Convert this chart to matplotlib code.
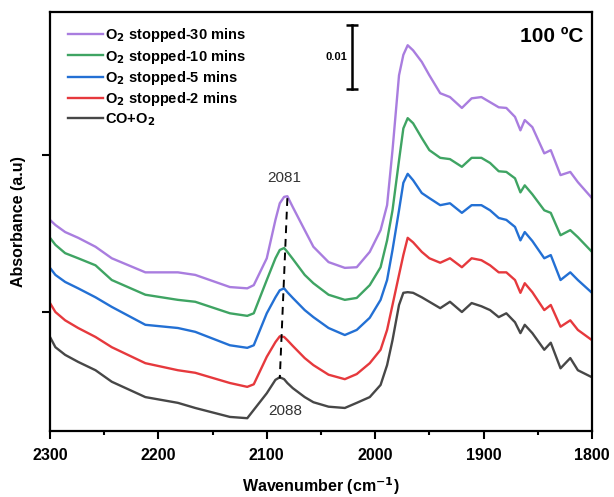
import numpy as np
import matplotlib
matplotlib.use("Agg")
import matplotlib.pyplot as plt
from matplotlib.ticker import MultipleLocator

plt.rcParams['font.family'] = ['Liberation Sans', 'DejaVu Sans']

# wavenumber grid (cm-1), shared by all spectra
wn = [2300, 2295, 2286, 2274, 2258, 2243, 2212, 2182, 2166, 2134, 2118, 2112,
      2100, 2092, 2088, 2084, 2081, 2076, 2065, 2057, 2043, 2028, 2017, 2005,
      1995, 1989, 1984, 1978, 1974, 1970, 1965, 1957, 1950, 1940, 1931, 1920,
      1911, 1902, 1894, 1886, 1879, 1871, 1866, 1862, 1855, 1844, 1838, 1829,
      1820, 1813, 1800]

# absorbance, in units of 1e-3 (offset stacked as in the figure)
abs_30min = [33.0, 32.2, 31.1, 30.2, 28.8, 27.0, 24.8, 24.8, 24.4, 22.5, 22.3, 22.8,
             27.0, 33.0, 35.6, 36.6, 36.7, 35.0, 31.4, 28.8, 26.4, 25.5, 25.6, 28.0,
             31.4, 35.3, 43.9, 55.6, 58.8, 60.3, 59.5, 57.7, 55.6, 52.8, 52.2, 50.5,
             52.0, 52.2, 51.4, 50.6, 50.5, 49.1, 47.0, 48.6, 47.5, 43.4, 43.9, 40.0,
             40.5, 38.9, 36.4]
abs_10min = [30.2, 29.1, 27.8, 27.0, 25.9, 23.6, 21.3, 20.5, 20.2, 18.4, 18.0, 18.4,
             23.6, 27.0, 28.3, 28.6, 28.0, 26.9, 24.4, 23.1, 21.3, 20.5, 20.8, 22.8,
             25.6, 29.8, 34.5, 42.3, 47.3, 48.9, 48.1, 45.8, 43.9, 42.7, 42.5, 41.3,
             42.7, 42.7, 41.9, 40.6, 40.5, 39.5, 37.3, 38.4, 37.0, 34.5, 34.1, 30.6,
             31.4, 30.3, 28.0]
abs_5min = [25.5, 24.4, 23.3, 22.3, 20.9, 19.4, 16.6, 16.1, 15.5, 13.4, 13.0, 13.4,
            18.4, 20.9, 22.0, 22.3, 21.7, 20.8, 18.9, 17.8, 16.1, 15.0, 15.8, 17.7,
            20.5, 23.6, 28.3, 34.5, 38.8, 40.2, 39.2, 37.2, 36.4, 35.3, 35.6, 34.1,
            35.3, 35.3, 34.5, 33.3, 33.0, 31.9, 29.8, 31.1, 29.7, 27.0, 27.5, 23.6,
            24.8, 23.6, 21.6]
abs_2min = [20.0, 18.6, 17.3, 16.1, 14.7, 13.1, 10.6, 9.5, 9.1, 7.5, 6.9, 7.3,
            11.6, 13.9, 14.8, 14.7, 14.2, 13.3, 11.4, 10.3, 8.8, 8.1, 8.9, 10.6,
            12.7, 15.8, 19.7, 24.4, 27.5, 30.2, 29.5, 28.0, 27.0, 26.3, 27.0, 25.6,
            27.0, 26.7, 25.9, 24.8, 24.8, 23.6, 21.6, 23.1, 21.7, 18.9, 19.7, 16.3,
            17.3, 15.8, 14.2]
abs_co_o2 = [14.7, 13.1, 11.9, 10.8, 9.5, 7.7, 5.3, 4.4, 3.6, 2.2, 2.0, 3.3,
             5.9, 8.0, 8.4, 8.1, 7.5, 6.7, 5.3, 4.5, 3.8, 3.6, 4.4, 5.3,
             7.2, 10.3, 14.2, 19.7, 21.6, 21.7, 21.6, 20.9, 20.2, 19.2, 20.2, 18.6,
             20.0, 19.5, 18.9, 17.8, 18.4, 17.0, 15.3, 16.6, 15.3, 12.7, 13.8, 9.8,
             11.4, 9.5, 8.4]

labels = ['O$_\\mathbf{2}$ stopped-30 mins', 'O$_\\mathbf{2}$ stopped-10 mins',
          'O$_\\mathbf{2}$ stopped-5 mins', 'O$_\\mathbf{2}$ stopped-2 mins',
          'CO+O$_\\mathbf{2}$']
colors = ['#a97ddf', '#3fa463', '#2370d4', '#e6393d', '#474747']
series = [abs_30min, abs_10min, abs_5min, abs_2min, abs_co_o2]

# peak shift marker (wavenumber, absorbance 1e-3)
peak_wn = [2081, 2088]
peak_abs = [36.4, 8.2]

fig = plt.figure(figsize=(6.14, 4.97), dpi=100)
ax = fig.add_axes([0.0814, 0.1328, 0.8827, 0.8431])

x = np.array(wn)
for y, c, lab in zip(series, colors, labels):
    ax.plot(x, np.array(y) / 1000, color=c, lw=1.7, label=lab)

ax.plot(peak_wn, np.array(peak_abs) / 1000, color='black', lw=1.4, ls=(0, (4, 3)))
ax.text(2084, 0.0385, '2081', color='#333333', fontsize=11, ha='center', va='bottom')
ax.text(2083, 0.0031, '2088', color='#333333', fontsize=11, ha='center', va='center')

# scale bar 0.01
sb_x = 2021.5
sb_y0 = 0.0534
ax.plot([sb_x, sb_x], [sb_y0, sb_y0 + 0.01], color='black', lw=1.8)
ax.plot([sb_x, sb_x], [sb_y0, sb_y0 + 0.01], color='black', lw=0,
        marker='_', markersize=8, markeredgewidth=1.8)
ax.text(sb_x + 4, sb_y0 + 0.005, '0.01', fontsize=8, fontweight='bold',
        ha='right', va='center')

ax.text(0.985, 0.965, '100 \u00baC', transform=ax.transAxes, fontsize=15,
        fontweight='bold', ha='right', va='top')

ax.set_xlim(2300, 1800)
ax.set_ylim(0, 0.0655)
ax.xaxis.set_major_locator(MultipleLocator(100))
ax.xaxis.set_minor_locator(MultipleLocator(50))
ax.set_yticks([0.0186, 0.0431])
ax.set_yticklabels([])
ax.tick_params(axis='x', which='major', direction='out', length=6, width=1.5,
               labelsize=11.5, pad=6)
ax.tick_params(axis='x', which='minor', direction='out', length=3, width=1.5)
ax.tick_params(axis='y', which='major', direction='out', length=6, width=1.5)
for lbl in ax.get_xticklabels():
    lbl.set_fontweight('bold')
for s in ax.spines.values():
    s.set_linewidth(1.6)

ax.set_xlabel('Wavenumber (cm$^\\mathbf{-1}$)', fontsize=11.5, fontweight='bold', labelpad=9)
ax.set_ylabel('Absorbance (a.u)', fontsize=11.5, fontweight='bold', labelpad=8)

leg = ax.legend(loc='upper left', bbox_to_anchor=(0.015, 0.99), frameon=False,
                prop={'weight': 'bold', 'size': 10.5}, handlelength=2.4,
                handletextpad=0.1, labelspacing=0.22, borderaxespad=0.3)

fig.savefig('out.png', dpi=100)
